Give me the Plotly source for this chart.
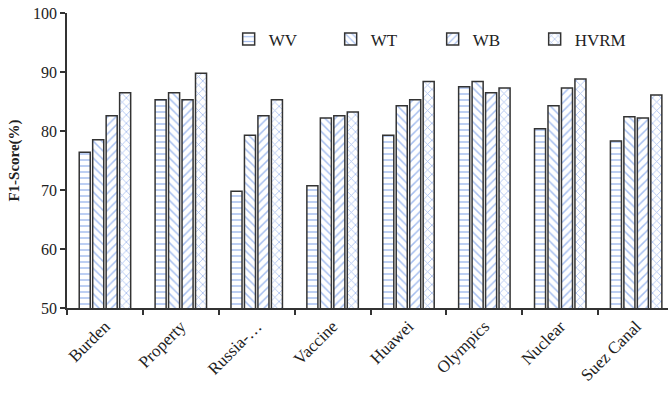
import plotly.graph_objects as go

categories = ["Burden", "Property", "Russia-…", "Vaccine", "Huawei", "Olympics", "Nuclear", "Suez Canal"]
wv = [76.4, 85.3, 69.8, 70.7, 79.3, 87.5, 80.4, 78.3]
wt = [78.5, 86.5, 79.3, 82.2, 84.3, 88.4, 84.3, 82.4]
wb = [82.6, 85.3, 82.6, 82.6, 85.3, 86.5, 87.3, 82.2]
hvrm = [86.5, 89.8, 85.3, 83.2, 88.4, 87.3, 88.8, 86.1]
series_names = ["WV", "WT", "WB", "HVRM"]
y_ticks = [50, 60, 70, 80, 90, 100]

patterns = ["-", "\\", "/", "x"]
pat_color = "#4F7FE0"
serif = "Liberation Serif, Times New Roman, serif"

fig = go.Figure()
for name, vals, pat in zip(series_names, [wv, wt, wb, hvrm], patterns):
    fig.add_trace(go.Bar(
        x=categories, y=vals, name=name,
        marker=dict(
            color="white",
            line=dict(color="#333333", width=1.5),
            pattern=dict(shape=pat, fgcolor=pat_color, bgcolor="white",
                         size=6, solidity=0.25, fillmode="overlay"),
        ),
    ))

fig.update_layout(
    width=668, height=399,
    margin=dict(l=67, r=0, t=13, b=91, autoexpand=False),
    paper_bgcolor="white", plot_bgcolor="white",
    barmode="group", bargap=0.29, bargroupgap=0.18,
    font=dict(family=serif, size=16, color="#222222"),
    showlegend=True,
    legend=dict(
        orientation="h", x=0.269, y=0.91, xanchor="left", yanchor="middle",
        font=dict(family=serif, size=17, color="#222222"),
        entrywidth=57, entrywidthmode="pixels",
        itemwidth=30, bgcolor="rgba(0,0,0,0)",
    ),
    xaxis=dict(
        range=[-0.5, 7.42], tickangle=-45, automargin=False,
        showline=True, linecolor="#333333", linewidth=1.5,
        ticks="outside", tickson="boundaries", ticklen=5,
        tickcolor="#333333", tickwidth=1.5,
        tickfont=dict(family=serif, size=17, color="#222222"),
        showgrid=False,
    ),
    yaxis=dict(
        range=[50, 100], tickvals=y_ticks, automargin=False,
        ticklabeloverflow="allow",
        showline=True, linecolor="#333333", linewidth=1.5,
        ticks="outside", ticklen=5, tickcolor="#333333", tickwidth=1.5,
        tickfont=dict(family=serif, size=16, color="#222222"),
        showgrid=False, zeroline=False,
        title=dict(text="<b>F1-Score(%)</b>", font=dict(family=serif, size=15, color="#222222"),
                   standoff=10),
    ),
)

fig.write_html("out.html", config={"displayModeBar": False},
               post_script="document.body.style.margin='0';")
